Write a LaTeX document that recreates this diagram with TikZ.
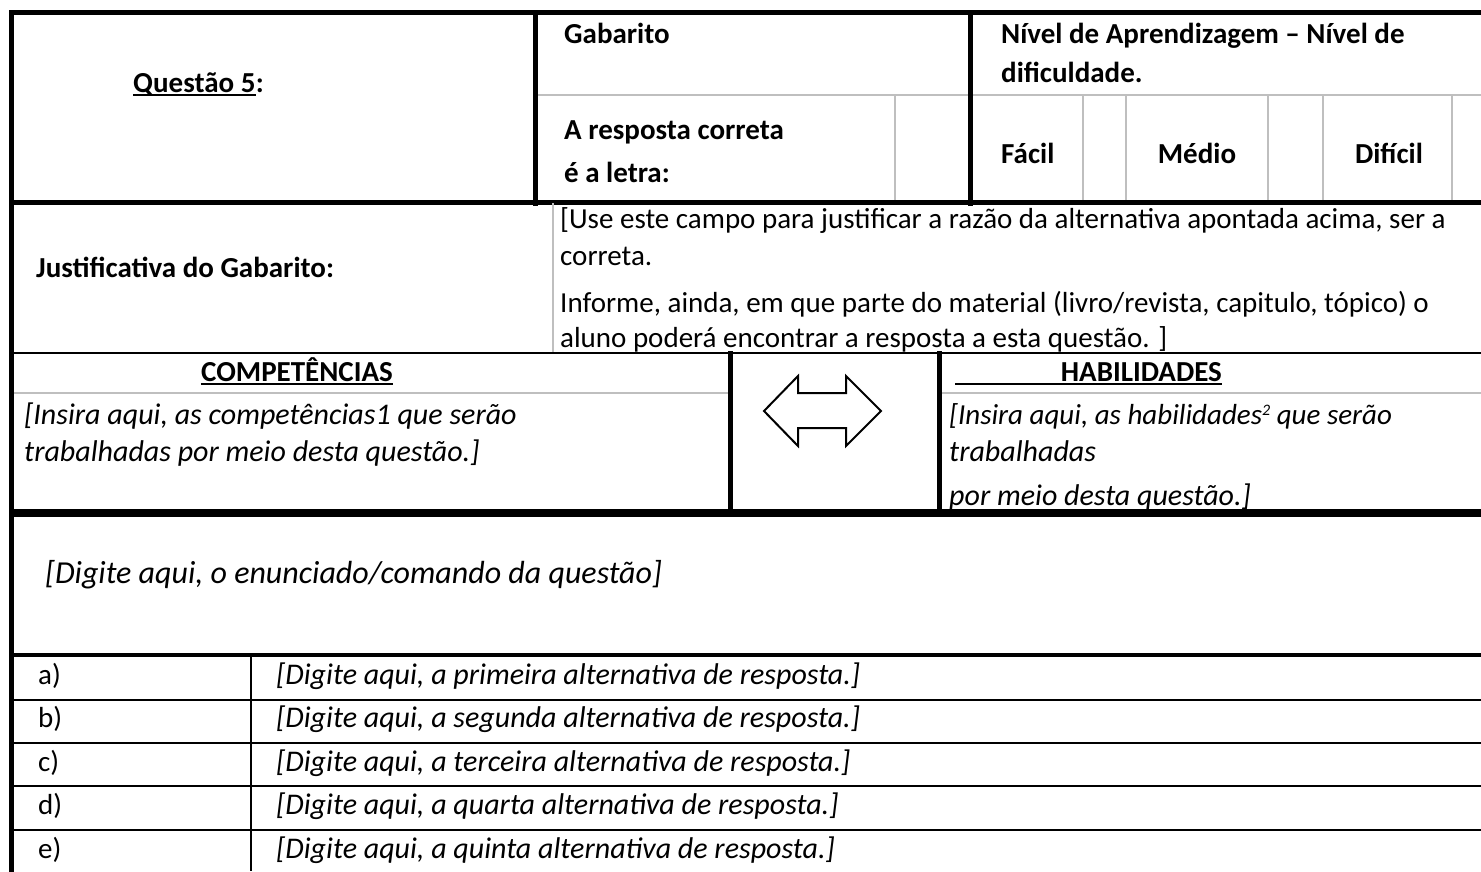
\documentclass[tikz,border=0pt]{standalone}
\usepackage{fontspec}
\setmainfont{Carlito}
\definecolor{lgray}{HTML}{BFBFBF}
\begin{document}
\begin{tikzpicture}[x=1pt,y=-1pt,
  heavy/.style={line width=5pt, line cap=rect},
  heavier/.style={line width=8pt},
  mid/.style={line width=2.5pt},
  fine/.style={line width=2pt},
  grayline/.style={line width=1.6pt, color=lgray},
  txt/.style={anchor=base west, inner sep=0pt, font=\fontsize{29}{34}\selectfont},
  btxt/.style={txt, font=\fontsize{29}{34}\selectfont\bfseries},
  itxt/.style={txt, font=\fontsize{30}{35}\selectfont\itshape},
  etxt/.style={txt, font=\fontsize{32}{38}\selectfont\itshape},
  stxt/.style={txt, font=\fontsize{29}{34}\selectfont},
  sitxt/.style={txt, font=\fontsize{30}{35}\selectfont\itshape},
  uline/.style={line width=1.5pt}
]
\useasboundingbox (0,0) rectangle (1481,871);
\fill[white] (0,0) rectangle (1481,871);

% ---- row 1 ----
\draw[grayline] (535,95) -- (1481,95);
\foreach \xx in {895,1083,1126,1268,1323,1452}
  \draw[grayline] (\xx,95) -- (\xx,203);
\draw[heavy] (535,12) -- (535,203);
\draw[heavy] (970,12) -- (970,203);
\draw[heavy] (11,12) -- (1481,12);
\draw[heavy] (11,202.5) -- (1481,202.5);

% ---- row 2 ----
\draw[grayline] (553,203) -- (553,353);
\draw[mid] (11,353) -- (1481,353);

% ---- row 3 ----
\draw[grayline] (11,393) -- (730,393);
\draw[grayline] (939,393) -- (1481,393);
\draw[heavy] (730,353) -- (730,513);
\draw[heavy] (939,353) -- (939,513);
\draw[heavier] (11,513) -- (1481,513);

% ---- row 4 / alternatives ----
\draw[line width=4.5pt] (11,655) -- (1481,655);
\foreach \yy in {700,743,786,830}
  \draw[fine] (11,\yy) -- (1481,\yy);
\draw[fine] (251,655) -- (251,871);

% left border
\draw[heavy] (11,12) -- (11,875);

% double arrow
\draw[line width=2pt, line join=miter, fill=white]
  (764,411) -- (798,376) -- (798,393) -- (846,393) -- (846,376) -- (881,411)
  -- (846,446) -- (846,428) -- (798,428) -- (798,446) -- cycle;

% ---- texts ----
\node[btxt] (q) at (133,92) {Questão 5};
\node[btxt, anchor=base west] (qc) at (q.base east) {:};
\draw[uline] ([yshift=-3pt]q.base west) -- ([yshift=-3pt]q.base east);

\node[btxt] (gab) at (564,43) {Gabarito};
\node[btxt] (resp1) at (564,139) {A resposta correta};
\node[btxt] (resp2) at (564,182) {é a letra:};
\node[btxt] (niv1) at (1001,43) {Nível de Aprendizagem – Nível de};
\node[btxt] (niv2) at (1001,82) {dificuldade.};
\node[btxt] (facil) at (1001,163) {Fácil};
\node[btxt, anchor=base] (medio) at (1197,163) {Médio};
\node[btxt, anchor=base] (dificil) at (1389,163) {Difícil};

\node[btxt] (just) at (36,277) {Justificativa do Gabarito:};
\node[txt] (j1) at (560,228) {[Use este campo para justificar a razão da alternativa apontada acima, ser a};
\node[txt] (j2) at (560,265) {correta.};
\node[txt] (j3) at (560,312) {Informe, ainda, em que parte do material (livro/revista, capitulo, tópico) o};
\node[txt] (j4) at (560,347) {aluno poderá encontrar a resposta a esta questão. ]};

\node[btxt, anchor=base] (comp) at (297,381) {COMPETÊNCIAS};
\draw[uline] ([yshift=-3pt]comp.base west) -- ([yshift=-3pt]comp.base east);
\node[itxt] (c1) at (24,424) {[Insira aqui, as competências1 que serão};
\node[itxt] (c2) at (24,461) {trabalhadas por meio desta questão.]};

\node[btxt, anchor=base east] (hab) at (1222,381) {HABILIDADES};
\draw[uline] (955,384) -- ([yshift=-3pt]hab.base east);
\node[itxt, font=\fontsize{29}{34}\selectfont\itshape] (h1) at (949,424) {[Insira aqui, as habilidades\raisebox{9pt}{\fontsize{16}{16}\selectfont 2} que serão};
\node[itxt] (h2) at (949,461) {trabalhadas};
\node[itxt] (h3) at (949,505) {por meio desta questão.]};

\node[etxt] (enun) at (45,583) {[Digite aqui, o enunciado/comando da questão]};

\node[stxt] (la) at (38,684) {a)};
\node[stxt] (lb) at (38,727) {b)};
\node[stxt] (lc) at (38,771) {c)};
\node[stxt] (ld) at (38,814) {d)};
\node[stxt] (le) at (38,858) {e)};
\node[sitxt] (ta) at (276,684) {[Digite aqui, a primeira alternativa de resposta.]};
\node[sitxt] (tb) at (276,727) {[Digite aqui, a segunda alternativa de resposta.]};
\node[sitxt] (tc) at (276,771) {[Digite aqui, a terceira alternativa de resposta.]};
\node[sitxt] (td) at (276,814) {[Digite aqui, a quarta alternativa de resposta.]};
\node[sitxt] (te) at (276,858) {[Digite aqui, a quinta alternativa de resposta.]};
\end{tikzpicture}
\end{document}
